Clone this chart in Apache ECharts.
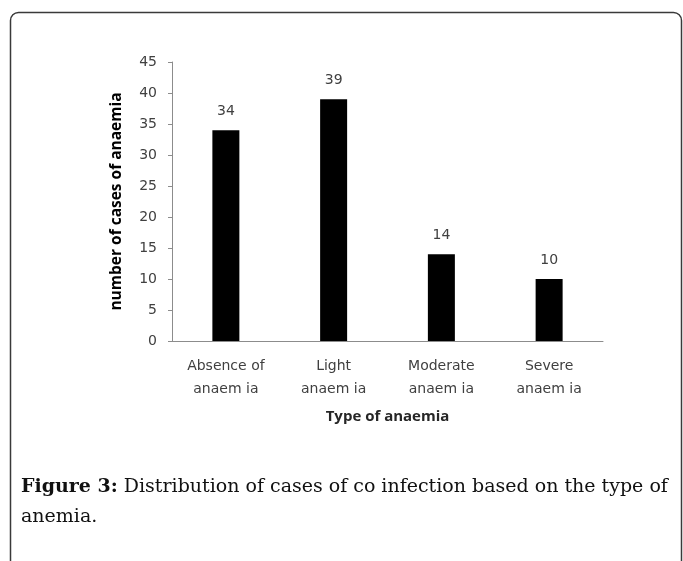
<!DOCTYPE html>
<html>
<head>
<meta charset="utf-8">
<script src="https://cdn.jsdelivr.net/npm/echarts@6/dist/echarts.min.js"></script>
<style>
html,body{margin:0;padding:0;background:#fff;}
#chart{width:683px;height:561px;}
</style>
</head>
<body>
<div id="chart"></div>
<script>
const categories = ['Absence of\nanaem ia', 'Light\nanaem ia', 'Moderate\nanaem ia', 'Severe\nanaem ia'];
const values = [34, 39, 14, 10];
const yTicks = {min: 0, max: 45, interval: 5};
const yTitle = 'number of cases of anaemia';
const xTitle = 'Type of anaemia';
const captionBold = 'Figure 3:';
const captionLine1 = ' Distribution of cases of co infection based on the type of';
const captionLine2 = 'anemia.';

const chart = echarts.init(document.getElementById('chart'), null, {renderer: 'canvas'});
chart.setOption({
  animation: false,
  backgroundColor: '#fff',
  grid: {left: 172, top: 62, right: 80, bottom: 220, containLabel: false},
  xAxis: {
    type: 'category',
    data: categories,
    axisLine: {lineStyle: {color: '#8c8c8c', width: 1}},
    axisTick: {show: false},
    axisLabel: {color: '#404040', fontFamily: 'DejaVu Sans', fontSize: 14, lineHeight: 23, margin: 14},
    name: xTitle,
    nameLocation: 'middle',
    nameGap: 68,
    nameTextStyle: {color: '#262626', fontFamily: 'Open Sans', fontWeight: 'bold', fontSize: 15}
  },
  yAxis: {
    type: 'value',
    min: yTicks.min, max: yTicks.max, interval: yTicks.interval,
    axisLine: {show: true, lineStyle: {color: '#8c8c8c', width: 1}},
    axisTick: {show: true, length: 4, lineStyle: {color: '#8c8c8c'}},
    splitLine: {show: false},
    axisLabel: {color: '#404040', fontFamily: 'DejaVu Sans', fontSize: 14, margin: 15},
    name: yTitle,
    nameLocation: 'middle',
    nameGap: 47,
    nameRotate: 90,
    nameTextStyle: {color: '#000', fontFamily: 'Open Sans', fontWeight: 'bold', fontSize: 15.5}
  },
  series: [{
    type: 'bar',
    data: values,
    barWidth: 27,
    itemStyle: {color: '#000'},
    label: {show: true, position: 'top', distance: 12, color: '#404040', fontFamily: 'DejaVu Sans', fontSize: 14}
  }],
  graphic: [
    {type: 'rect', shape: {x: 10.5, y: 12.5, width: 671, height: 620, r: 8}, style: {fill: 'none', stroke: '#3a3a3a', lineWidth: 1.5}, silent: true},
    {type: 'text', left: 21, top: 478, style: {
      rich: {
        b: {fontFamily: 'DejaVu Serif', fontWeight: 'bold', fontSize: 19, fill: '#111'},
        n: {fontFamily: 'DejaVu Serif', fontSize: 19, fill: '#111'}
      },
      text: '{b|' + captionBold + '}{n|' + captionLine1 + '}'
    }},
    {type: 'text', left: 21, top: 508, style: {
      fontFamily: 'DejaVu Serif', fontSize: 19, fill: '#111', text: captionLine2
    }}
  ]
});
</script>
</body>
</html>
